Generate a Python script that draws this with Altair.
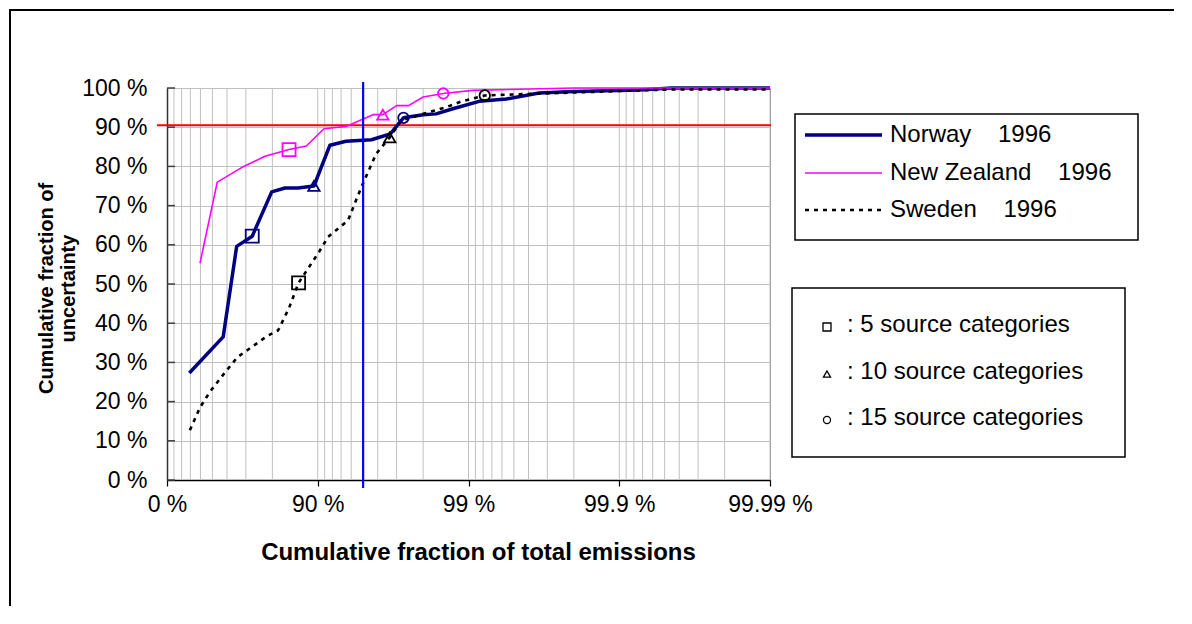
import altair as alt
import pandas as pd

# ---------------- data ----------------
countries = ["Norway", "New Zealand", "Sweden"]
year = 1996
colors = ["#000080", "#ff00ff", "#000000"]

# cumulative fraction of total emissions (%) / cumulative fraction of uncertainty (%)
norway_x = [28.9, 57.6, 65.5, 72.8, 79.8, 83.5, 86.5, 89.4, 91.7, 93.5, 95.6, 96.7, 97.3,
            98.0, 98.36, 98.73, 99.15, 99.44, 99.66, 99.80, 99.926, 99.955, 99.99]
norway_y = [27.3, 36.5, 59.6, 62.2, 73.5, 74.5, 74.5, 75.0, 85.4, 86.4, 86.8, 88.3, 92.4,
            93.2, 93.4, 94.7, 96.6, 97.2, 98.7, 99.1, 99.5, 100.0, 100.0]

nz_x = [39.6, 53.6, 68.0, 77.6, 84.5, 88.1, 90.9, 93.5, 95.7, 96.3, 97.0, 97.5, 98.0,
        98.53, 99.06, 99.80, 99.99]
nz_y = [55.3, 76.0, 79.7, 82.6, 84.3, 85.2, 89.6, 90.2, 93.2, 93.2, 95.5, 95.5, 97.7,
        98.6, 99.4, 100.0, 100.0]

sweden_x = [29.5, 39.6, 48.1, 58.3, 65.8, 71.1, 78.3, 81.7, 84.5, 86.6, 90.2, 91.45, 92.66,
            93.7, 94.86, 95.9, 96.67, 97.2, 97.65, 98.59, 98.89, 99.22, 99.61, 99.82, 99.91,
            99.955, 99.99]
sweden_y = [12.7, 18.5, 22.5, 27.2, 31.3, 33.3, 36.7, 38.2, 43.9, 50.3, 58.2, 62.0, 64.1,
            66.2, 74.7, 83.2, 87.4, 91.7, 92.6, 95.1, 96.6, 98.1, 98.5, 98.9, 99.3,
            99.6, 99.6]

# markers at 5, 10 and 15 source categories
marker_categories = [5, 10, 15]
marker_shapes = ["square", "triangle-up", "circle"]
norway_marks_x = [72.8, 89.4, 97.3]
norway_marks_y = [62.2, 75.0, 92.4]
nz_marks_x = [84.5, 96.3, 98.53]
nz_marks_y = [84.3, 93.2, 98.6]
sweden_marks_x = [86.6, 96.67, 99.22]
sweden_marks_y = [50.3, 87.4, 98.1]

# axes
x_tick_remainders = [1, 0.1, 0.01, 0.001, 0.0001]   # 1 - fraction
x_tick_labels = ["0 %", "90 %", "99 %", "99.9 %", "99.99 %"]
y_ticks = [0, 10, 20, 30, 40, 50, 60, 70, 80, 90, 100]

threshold_uncertainty = 90.5   # red line (%)
threshold_emissions = 95.0     # blue line (%)

# ---------------- tables ----------------
rows = []
for name, xs, ys in zip(countries, [norway_x, nz_x, sweden_x], [norway_y, nz_y, sweden_y]):
    for i, (a, b) in enumerate(zip(xs, ys)):
        rows.append({"country": name, "f": a, "v": b, "i": i})
lines_df = pd.DataFrame(rows)

mrows = []
for name, xs, ys in zip(countries, [norway_marks_x, nz_marks_x, sweden_marks_x],
                        [norway_marks_y, nz_marks_y, sweden_marks_y]):
    for k, a, b, s in zip(marker_categories, xs, ys, marker_shapes):
        mrows.append({"country": name, "f": a, "v": b, "cats": k, "shape": s})
marks_df = pd.DataFrame(mrows)

# minor/major vertical grid (log subdivisions of the remainder 1 - fraction)
grid_u = [k * 10.0 ** (-d) for d in range(1, 5) for k in range(1, 10)]
grid_df = pd.DataFrame({"u": grid_u})
ytick_df = pd.DataFrame({"v": y_ticks})
one = pd.DataFrame({"d": [0]})

W, H = 603, 392
FONT = "Liberation Sans"
LBL = 23
LEG = 24

xscale = alt.Scale(type="log", domain=[0.0001, 1], reverse=True)
yscale = alt.Scale(domain=[0, 100], nice=False)

vals_js = "[" + ",".join(str(v) for v in x_tick_remainders) + "]"
labs_js = "[" + ",".join("'" + s + "'" for s in x_tick_labels) + "]"

xaxis = alt.Axis(
    values=x_tick_remainders,
    labelExpr=f"{labs_js}[indexof({vals_js}, datum.value)]",
    grid=False, tickSize=6, tickColor="#000000", tickWidth=1.2,
    domainColor="#000000", domainWidth=1.5,
    labelFontSize=LBL, labelFont=FONT, labelColor="#000000", labelPadding=7,
    labelFlush=False, labelOverlap=False,
    title="Cumulative fraction of total emissions",
    titleFont=FONT, titleFontSize=24, titleFontWeight="bold", titleColor="#000000",
    titleX=311, titleY=72, titleAlign="center", titleBaseline="middle", titleAngle=0,
)
yaxis = alt.Axis(
    values=y_ticks, labelExpr="datum.value + ' %'",
    grid=True, gridColor="#c0c0c0", gridWidth=1,
    ticks=False, tickSize=0, labelPadding=20,
    domainColor="#333333", domainWidth=1.5,
    labelFontSize=LBL, labelFont=FONT, labelColor="#000000",
    title=["Cumulative fraction of", "uncertainty"],
    titleFont=FONT, titleFontSize=20, titleFontWeight="bold", titleColor="#000000",
    titleX=-121, titleY=200, titleAngle=270, titleAlign="center", titleBaseline="middle",
    titleLineHeight=22,
)

X = alt.X("u:Q", scale=xscale, axis=xaxis)
Y = alt.Y("v:Q", scale=yscale, axis=yaxis)

layers = []

# vertical grid
layers.append(alt.Chart(grid_df).mark_rule(color="#c0c0c0", strokeWidth=1).encode(x=X))

# inward y ticks
layers.append(alt.Chart(ytick_df).mark_rule(color="#404040", strokeWidth=1.5).encode(
    y=Y, x=alt.value(0), x2=alt.value(8)))

# red threshold line
layers.append(alt.Chart(pd.DataFrame({"v": [threshold_uncertainty]})).mark_rule(
    color="#ff0000", strokeWidth=2).encode(y=Y, x=alt.value(-10), x2=alt.value(W + 1)))

# series lines
styles = {
    "Norway": dict(color=colors[0], strokeWidth=3.5),
    "New Zealand": dict(color=colors[1], strokeWidth=1.6),
    "Sweden": dict(color=colors[2], strokeWidth=2.6, strokeDash=[4, 5]),
}
for name in countries:
    layers.append(
        alt.Chart(lines_df)
        .transform_filter(alt.datum.country == name)
        .transform_calculate(u="1 - datum.f / 100")
        .mark_line(strokeJoin="round", **styles[name])
        .encode(x=X, y=Y, order="i:Q")
    )

# blue vertical line
layers.append(alt.Chart(pd.DataFrame({"f": [threshold_emissions]}))
              .transform_calculate(u="1 - datum.f / 100")
              .mark_rule(color="#0000ff", strokeWidth=2.2)
              .encode(x=X, y=alt.value(-6), y2=alt.value(H + 8)))

# markers
sizes = {"square": 170, "triangle-up": 130, "circle": 110}
for shp in marker_shapes:
    layers.append(
        alt.Chart(marks_df)
        .transform_filter(alt.datum.shape == shp)
        .transform_calculate(u="1 - datum.f / 100")
        .mark_point(shape=shp, filled=False, size=sizes[shp], strokeWidth=1.8, opacity=1)
        .encode(x=X, y=Y,
                color=alt.Color("country:N", scale=alt.Scale(domain=countries, range=colors),
                                legend=None))
    )

# ---------------- decorations: outer frame and legend boxes ----------------
def box(x1, y1, x2, y2, w=1.5):
    return alt.Chart(one).mark_rect(fill=None, fillOpacity=0, stroke="#000000", strokeWidth=w).encode(
        x=alt.value(x1), y=alt.value(y1), x2=alt.value(x2), y2=alt.value(y2))

layers.append(box(-157, -78, 1400, 900, w=2))
layers.append(box(628, 26, 971, 152))
layers.append(box(625, 200, 958, 369))

legend_rows_y = [47, 85, 122]
for name, yy in zip(countries, legend_rows_y):
    st = dict(styles[name])
    layers.append(alt.Chart(one).mark_rule(**st).encode(
        x=alt.value(638), x2=alt.value(715), y=alt.value(yy)))
    layers.append(alt.Chart(one).mark_text(align="left", baseline="middle", font=FONT,
                                           fontSize=LEG, color="#000000").encode(
        x=alt.value(723), y=alt.value(yy),
        text=alt.value(name + "\u00a0\u00a0\u00a0\u00a0" + str(year))))

legend2_rows_y = [237, 284, 330]
sym_sizes = {"square": 64, "triangle-up": 50, "circle": 50}
for k, shp, yy in zip(marker_categories, marker_shapes, legend2_rows_y):
    layers.append(alt.Chart(one).mark_point(shape=shp, filled=False, size=sym_sizes[shp],
                                            color="#000000", strokeWidth=1.3, opacity=1).encode(
        x=alt.value(660), y=alt.value(yy + 2)))
    layers.append(alt.Chart(one).mark_text(align="left", baseline="middle", font=FONT,
                                           fontSize=LEG, color="#000000").encode(
        x=alt.value(680), y=alt.value(yy),
        text=alt.value(f": {k} source categories")))

chart = (
    alt.layer(*layers)
    .properties(width=W, height=H,
                autosize=alt.AutoSizeParams(type="none"),
                padding={"left": 159, "top": 80, "right": 404, "bottom": 126},
                background="#ffffff")
    .configure(font=FONT)
    .configure_view(stroke="#808080", strokeWidth=1)
)

chart.save("out.html", embed_options={"renderer": "svg", "actions": False})
